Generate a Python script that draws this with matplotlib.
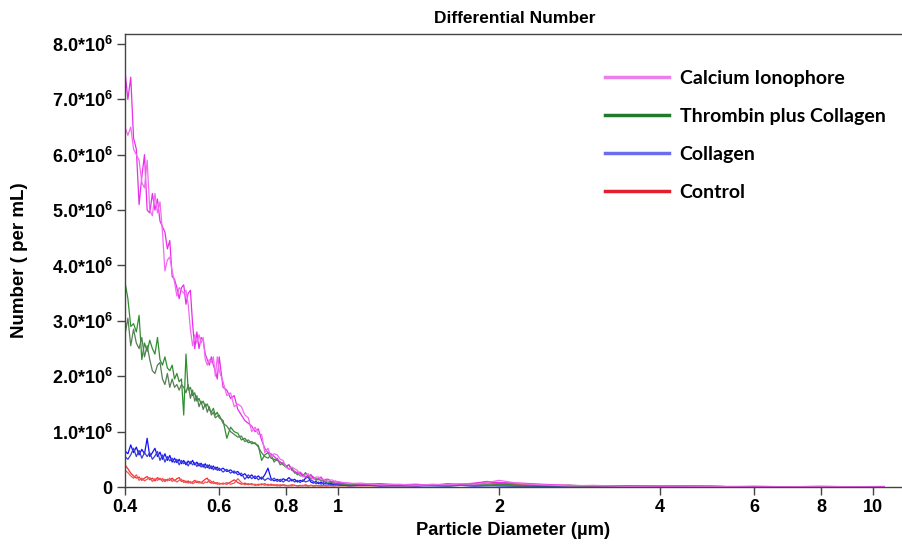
import matplotlib
matplotlib.use("Agg")
import matplotlib.pyplot as plt
from matplotlib.lines import Line2D
import numpy as np

plt.rcParams["font.family"] = ["Liberation Sans", "DejaVu Sans"]
plt.rcParams["mathtext.fontset"] = "custom"
plt.rcParams["mathtext.bf"] = "Liberation Sans:bold"
plt.rcParams["mathtext.rm"] = "Liberation Sans:bold"
plt.rcParams["mathtext.default"] = "bf"

# particle diameter bins (um)
DIAM = [
    0.400, 0.405, 0.410, 0.415, 0.420, 0.425, 0.430, 0.435, 0.440, 0.445,
    0.450, 0.455, 0.460, 0.465, 0.470, 0.475, 0.480, 0.485, 0.490, 0.495,
    0.500, 0.505, 0.510, 0.515, 0.520, 0.525, 0.530, 0.535, 0.540, 0.545,
    0.550, 0.555, 0.560, 0.565, 0.570, 0.575, 0.580, 0.585, 0.590, 0.595,
    0.600, 0.61, 0.62, 0.63, 0.64, 0.65, 0.66, 0.67, 0.68, 0.69,
    0.70, 0.71, 0.72, 0.73, 0.74, 0.75, 0.76, 0.77, 0.78, 0.79,
    0.80, 0.81, 0.82, 0.83, 0.84, 0.85, 0.86, 0.87, 0.88, 0.89,
    0.90, 0.91, 0.92, 0.93, 0.94, 0.95, 0.96, 0.97, 0.98, 0.99,
    1.00,
    1.05, 1.1, 1.2, 1.3, 1.4, 1.5, 1.6, 1.7, 1.8, 1.9,
    2.0, 2.2, 2.4, 2.7, 3.0, 3.5, 4.0, 5.0, 6.0, 8.0, 10.5,
]

# counts per mL, in units of 1e6 (two replicates per condition)
IONOPHORE_A = [
    7.50, 7.00, 7.40, 6.30, 6.10, 5.10, 5.60, 6.00, 5.00, 4.95,
    5.30, 5.00, 5.20, 4.80, 4.70, 4.60, 4.30, 4.45, 3.80, 3.75,
    3.60, 3.40, 3.60, 3.65, 3.30, 3.50, 3.55, 2.95, 2.50, 2.80,
    2.50, 2.70, 2.65, 2.40, 2.30, 2.20, 2.35, 2.20, 2.10, 1.95,
    2.35, 1.80, 1.75, 1.60, 1.65, 1.40, 1.30, 1.20, 1.15, 1.10,
    1.00, 1.05, 0.85, 0.70, 0.62, 0.60, 0.55, 0.50, 0.45, 0.42,
    0.38, 0.40, 0.32, 0.28, 0.25, 0.27, 0.22, 0.17, 0.20, 0.22,
    0.17, 0.13, 0.15, 0.18, 0.12, 0.14, 0.14, 0.10, 0.09, 0.11,
    0.08,
    0.07, 0.05, 0.06, 0.04, 0.05, 0.03, 0.06, 0.05, 0.07, 0.10,
    0.08, 0.07, 0.05, 0.03, 0.02, 0.02, 0.01, 0.01, 0.01, 0.00, 0.01,
]
IONOPHORE_B = [
    6.50, 6.35, 6.50, 6.10, 6.00, 5.90, 5.50, 5.40, 5.90, 5.00,
    4.90, 5.30, 4.95, 5.15, 4.60, 3.90, 4.10, 4.15, 3.90, 3.70,
    3.45, 3.60, 3.55, 3.50, 3.55, 3.30, 2.85, 2.55, 2.75, 2.60,
    2.75, 2.60, 2.70, 2.30, 2.20, 2.30, 2.25, 2.35, 2.00, 2.35,
    2.10, 1.90, 1.65, 1.70, 1.45, 1.50, 1.45, 1.30, 1.25, 1.00,
    1.08, 0.95, 0.95, 0.62, 0.70, 0.55, 0.60, 0.58, 0.50, 0.48,
    0.35, 0.33, 0.36, 0.33, 0.30, 0.22, 0.18, 0.22, 0.24, 0.17,
    0.14, 0.18, 0.18, 0.13, 0.14, 0.11, 0.10, 0.13, 0.12, 0.08,
    0.10,
    0.06, 0.07, 0.04, 0.05, 0.03, 0.05, 0.04, 0.06, 0.05, 0.08,
    0.12, 0.06, 0.04, 0.02, 0.03, 0.01, 0.02, 0.01, 0.00, 0.01, 0.00,
]
THROMBIN_A = [
    3.70, 3.40, 2.90, 2.95, 2.80, 3.10, 2.30, 2.60, 2.45, 2.65,
    2.50, 2.40, 2.70, 2.30, 2.20, 2.35, 2.15, 2.10, 2.20, 1.95,
    2.05, 1.90, 1.95, 1.30, 2.40, 1.75, 1.80, 1.65, 1.70, 1.55,
    1.60, 1.50, 1.55, 1.45, 1.50, 1.40, 1.35, 1.42, 1.30, 1.35,
    1.25, 1.20, 0.88, 1.08, 1.00, 0.97, 0.85, 0.88, 0.80, 0.82,
    0.78, 0.75, 0.48, 0.58, 0.62, 0.52, 0.50, 0.48, 0.45, 0.40,
    0.36, 0.40, 0.30, 0.28, 0.22, 0.25, 0.20, 0.26, 0.18, 0.22,
    0.16, 0.15, 0.13, 0.14, 0.10, 0.12, 0.09, 0.08, 0.10, 0.07,
    0.07,
    0.05, 0.04, 0.05, 0.03, 0.04, 0.03, 0.04, 0.03, 0.04, 0.03,
    0.05, 0.03, 0.02, 0.03, 0.02, 0.01, 0.02, 0.01, 0.00, 0.00, 0.00,
]
THROMBIN_B = [
    2.75, 3.05, 2.55, 2.85, 2.60, 2.50, 2.70, 2.35, 2.55, 2.30,
    2.10, 2.05, 2.20, 2.25, 1.95, 1.85, 2.05, 1.80, 1.95, 1.80,
    1.85, 1.75, 1.85, 1.80, 1.70, 1.85, 1.60, 1.75, 1.55, 1.65,
    1.45, 1.55, 1.40, 1.50, 1.35, 1.45, 1.30, 1.35, 1.25, 1.28,
    1.30, 1.15, 1.10, 1.00, 0.95, 0.90, 0.92, 0.82, 0.85, 0.78,
    0.80, 0.72, 0.62, 0.55, 0.52, 0.58, 0.45, 0.52, 0.40, 0.44,
    0.38, 0.32, 0.35, 0.25, 0.27, 0.20, 0.22, 0.18, 0.20, 0.15,
    0.18, 0.12, 0.15, 0.11, 0.12, 0.09, 0.10, 0.10, 0.07, 0.08,
    0.06,
    0.04, 0.05, 0.03, 0.04, 0.03, 0.04, 0.02, 0.04, 0.03, 0.04,
    0.03, 0.02, 0.03, 0.02, 0.01, 0.02, 0.01, 0.01, 0.00, 0.01, 0.00,
]
COLLAGEN_A = [
    0.65, 0.60, 0.76, 0.62, 0.72, 0.58, 0.68, 0.60, 0.88, 0.55,
    0.62, 0.70, 0.55, 0.63, 0.50, 0.60, 0.48, 0.57, 0.45, 0.52,
    0.44, 0.50, 0.42, 0.48, 0.40, 0.47, 0.42, 0.48, 0.40, 0.45,
    0.38, 0.43, 0.36, 0.42, 0.35, 0.40, 0.33, 0.38, 0.32, 0.36,
    0.30, 0.34, 0.28, 0.31, 0.25, 0.28, 0.20, 0.24, 0.16, 0.22,
    0.15, 0.20, 0.14, 0.22, 0.34, 0.15, 0.11, 0.14, 0.10, 0.15,
    0.12, 0.17, 0.11, 0.14, 0.09, 0.12, 0.10, 0.16, 0.18, 0.09,
    0.07, 0.10, 0.06, 0.09, 0.05, 0.08, 0.05, 0.07, 0.04, 0.06,
    0.04,
    0.03, 0.04, 0.02, 0.03, 0.02, 0.03, 0.02, 0.03, 0.02, 0.03,
    0.02, 0.02, 0.01, 0.02, 0.01, 0.01, 0.01, 0.00, 0.01, 0.00, 0.00,
]
COLLAGEN_B = [
    0.55, 0.50, 0.58, 0.70, 0.55, 0.66, 0.52, 0.62, 0.55, 0.62,
    0.50, 0.56, 0.64, 0.48, 0.58, 0.45, 0.55, 0.47, 0.52, 0.44,
    0.50, 0.40, 0.48, 0.42, 0.45, 0.38, 0.46, 0.40, 0.44, 0.37,
    0.43, 0.36, 0.41, 0.34, 0.40, 0.33, 0.38, 0.31, 0.36, 0.30,
    0.34, 0.27, 0.32, 0.25, 0.29, 0.22, 0.25, 0.14, 0.22, 0.15,
    0.20, 0.13, 0.18, 0.12, 0.16, 0.12, 0.16, 0.10, 0.14, 0.09,
    0.13, 0.10, 0.14, 0.09, 0.12, 0.08, 0.13, 0.09, 0.11, 0.13,
    0.10, 0.06, 0.09, 0.05, 0.08, 0.05, 0.07, 0.04, 0.06, 0.04,
    0.05,
    0.02, 0.03, 0.03, 0.02, 0.03, 0.02, 0.02, 0.03, 0.02, 0.02,
    0.03, 0.01, 0.02, 0.01, 0.01, 0.00, 0.01, 0.01, 0.00, 0.00, 0.00,
]
CONTROL_A = [
    0.40, 0.33, 0.25, 0.20, 0.16, 0.18, 0.12, 0.16, 0.19, 0.13,
    0.16, 0.11, 0.17, 0.13, 0.15, 0.10, 0.14, 0.12, 0.16, 0.11,
    0.15, 0.17, 0.10, 0.12, 0.08, 0.11, 0.07, 0.09, 0.12, 0.08,
    0.10, 0.07, 0.11, 0.14, 0.16, 0.09, 0.07, 0.10, 0.06, 0.08,
    0.05, 0.07, 0.05, 0.09, 0.13, 0.08, 0.05, 0.07, 0.04, 0.06,
    0.03, 0.05, 0.04, 0.06, 0.03, 0.05, 0.03, 0.04, 0.02, 0.04,
    0.03, 0.02, 0.04, 0.03, 0.02, 0.03, 0.02, 0.04, 0.02, 0.03,
    0.02, 0.03, 0.02, 0.02, 0.03, 0.02, 0.02, 0.03, 0.02, 0.02,
    0.03,
    0.02, 0.03, 0.02, 0.03, 0.02, 0.04, 0.03, 0.05, 0.06, 0.09,
    0.07, 0.05, 0.03, 0.02, 0.02, 0.01, 0.02, 0.01, 0.00, 0.00, 0.00,
]
CONTROL_B = [
    0.30, 0.26, 0.20, 0.16, 0.22, 0.12, 0.16, 0.11, 0.14, 0.17,
    0.10, 0.15, 0.12, 0.16, 0.10, 0.14, 0.11, 0.16, 0.10, 0.13,
    0.09, 0.12, 0.14, 0.08, 0.11, 0.07, 0.10, 0.06, 0.08, 0.11,
    0.07, 0.09, 0.06, 0.09, 0.08, 0.13, 0.10, 0.06, 0.08, 0.05,
    0.07, 0.05, 0.08, 0.05, 0.07, 0.15, 0.08, 0.04, 0.06, 0.04,
    0.05, 0.03, 0.06, 0.03, 0.05, 0.03, 0.04, 0.02, 0.04, 0.03,
    0.02, 0.03, 0.02, 0.03, 0.02, 0.02, 0.03, 0.02, 0.02, 0.03,
    0.02, 0.02, 0.03, 0.02, 0.02, 0.02, 0.03, 0.02, 0.02, 0.03,
    0.02,
    0.03, 0.02, 0.03, 0.02, 0.03, 0.03, 0.04, 0.03, 0.05, 0.07,
    0.06, 0.04, 0.02, 0.03, 0.01, 0.02, 0.01, 0.01, 0.00, 0.01, 0.00,
]

TRACES = [
    (CONTROL_A, "#ff2a2a"), (CONTROL_B, "#e85a5a"),
    (COLLAGEN_A, "#1010ff"), (COLLAGEN_B, "#3c3cd8"),
    (THROMBIN_A, "#2f8f2f"), (THROMBIN_B, "#557f55"),
    (IONOPHORE_A, "#e82ee8"), (IONOPHORE_B, "#f26af2"),
]

LEGEND_LABELS = ["Calcium Ionophore", "Thrombin plus Collagen", "Collagen", "Control"]
LEGEND_COLORS = ["#ea80ea", "#1f7a2a", "#6c6cf0", "#e0202a"]

X_TICKS = [0.4, 0.6, 0.8, 1, 2, 4, 6, 8, 10]
X_TICK_LABELS = ["0.4", "0.6", "0.8", "1", "2", "4", "6", "8", "10"]
Y_TICKS = [0, 1, 2, 3, 4, 5, 6, 7, 8]
Y_TICK_LABELS = ["0"] + [f"{v:.1f}*10$^{{6}}$" for v in Y_TICKS[1:]]

fig = plt.figure(figsize=(9.02, 5.44), dpi=100)
ax = fig.add_axes([125 / 902, 1 - 487 / 544, 1 - 125 / 902, (487 - 34) / 544])

d = np.array(DIAM)
for vals, color in TRACES:
    ax.plot(d, np.array(vals) * 1e6, color=color, lw=0.9)

ax.set_xscale("log")
ax.set_xlim(0.4, 11.33)
ax.set_ylim(0, 8.18e6)
ax.set_xticks(X_TICKS)
ax.set_xticklabels(X_TICK_LABELS)
ax.xaxis.set_minor_locator(matplotlib.ticker.NullLocator())
ax.set_yticks([v * 1e6 for v in Y_TICKS])
ax.set_yticklabels(Y_TICK_LABELS)

for lab in ax.get_xticklabels() + ax.get_yticklabels():
    lab.set_fontweight("bold")
    lab.set_fontsize(13)
ax.tick_params(axis="both", direction="out", length=6, width=1, color="#444444", pad=3)

for side in ("left", "bottom", "top"):
    ax.spines[side].set_color("#444444")
    ax.spines[side].set_linewidth(1)
ax.spines["right"].set_visible(False)

ax.set_xlabel("Particle Diameter (µm)", fontsize=13.2, fontweight="bold", labelpad=4)
ax.set_ylabel("Number ( per mL)", fontsize=13.5, fontweight="bold", labelpad=17)
fig.text(0.571, 0.966, "Differential Number", ha="center", va="center",
         fontsize=12.5, fontweight="bold")

handles = [Line2D([0], [0], color=c, lw=2.5) for c in LEGEND_COLORS]
leg = ax.legend(handles, LEGEND_LABELS, loc="upper left", bbox_to_anchor=(0.595, 0.96),
                frameon=False, handlelength=3.3, handletextpad=0.55, labelspacing=1.08,
                prop={"family": "Lato", "weight": "bold", "size": 14})

fig.savefig("out.png", dpi=100)
